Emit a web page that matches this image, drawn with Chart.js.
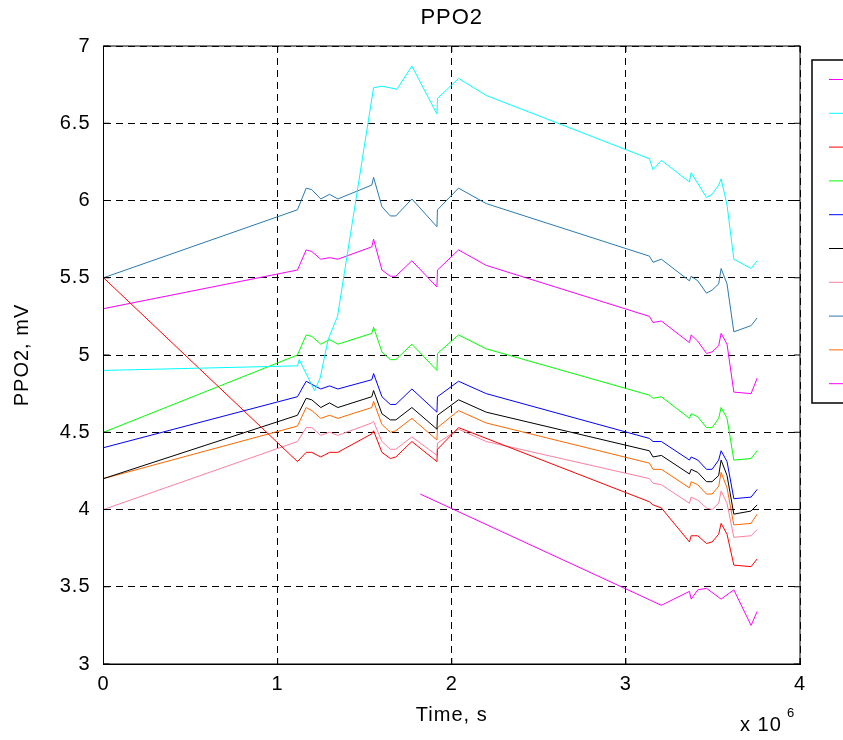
<!DOCTYPE html>
<html>
<head>
<meta charset="utf-8">
<script src="https://cdn.jsdelivr.net/npm/chart.js@4.4.1/dist/chart.umd.min.js"></script>
<style>
  html, body { margin: 0; padding: 0; background: #fff; }
  #wrap { width: 843px; height: 740px; }
</style>
</head>
<body>
<div id="wrap"><canvas id="myChart" width="843" height="740"></canvas></div>
<script>
// time in units of 10^6 s
var T = [0, 1.114, 1.164, 1.196, 1.248, 1.298, 1.346, 1.541, 1.551, 1.599, 1.647, 1.679, 1.771, 1.915, 1.918, 2.039, 2.198,
         3.135, 3.156, 3.204, 3.365, 3.375, 3.413, 3.463, 3.495, 3.533, 3.547, 3.581, 3.620, 3.719, 3.754];

var steel  = [5.50, 5.94, 6.08, 6.07, 6.01, 6.04, 6.01, 6.10, 6.15, 5.96, 5.90, 5.90, 6.01, 5.83, 5.94, 6.08, 5.98,
              5.64, 5.60, 5.62, 5.48, 5.51, 5.48, 5.40, 5.42, 5.46, 5.56, 5.46, 5.15, 5.19, 5.24];
var magUp  = [5.30, 5.55, 5.68, 5.67, 5.62, 5.63, 5.62, 5.70, 5.75, 5.55, 5.51, 5.51, 5.61, 5.44, 5.55, 5.68, 5.58,
              5.25, 5.21, 5.22, 5.08, 5.13, 5.09, 5.01, 5.02, 5.06, 5.14, 5.07, 4.76, 4.75, 4.85];
var green  = [4.50, 5.00, 5.13, 5.12, 5.07, 5.10, 5.07, 5.14, 5.18, 5.02, 4.97, 4.97, 5.07, 4.90, 5.01, 5.13, 5.04,
              4.74, 4.72, 4.73, 4.59, 4.62, 4.60, 4.53, 4.53, 4.59, 4.66, 4.59, 4.32, 4.33, 4.38];
var blue   = [4.40, 4.73, 4.83, 4.81, 4.78, 4.80, 4.78, 4.84, 4.88, 4.73, 4.68, 4.68, 4.78, 4.63, 4.73, 4.83, 4.75,
              4.46, 4.44, 4.44, 4.32, 4.34, 4.32, 4.26, 4.26, 4.32, 4.38, 4.31, 4.07, 4.08, 4.13];
var black  = [4.20, 4.61, 4.72, 4.71, 4.66, 4.69, 4.66, 4.73, 4.77, 4.62, 4.58, 4.58, 4.66, 4.52, 4.61, 4.71, 4.63,
              4.38, 4.34, 4.35, 4.23, 4.26, 4.24, 4.18, 4.18, 4.22, 4.32, 4.22, 3.97, 3.99, 4.03];
var orange = [4.20, 4.54, 4.66, 4.64, 4.59, 4.61, 4.59, 4.66, 4.70, 4.55, 4.50, 4.51, 4.59, 4.45, 4.53, 4.64, 4.56,
              4.30, 4.26, 4.26, 4.14, 4.18, 4.16, 4.10, 4.10, 4.15, 4.24, 4.14, 3.90, 3.91, 3.97];
var pink   = [4.00, 4.44, 4.53, 4.53, 4.48, 4.50, 4.48, 4.56, 4.57, 4.44, 4.39, 4.39, 4.47, 4.35, 4.43, 4.52, 4.44,
              4.20, 4.17, 4.16, 4.04, 4.08, 4.06, 4.01, 4.00, 4.04, 4.12, 4.04, 3.82, 3.83, 3.87];
var red    = [5.50, 4.31, 4.37, 4.37, 4.34, 4.37, 4.37, 4.49, 4.51, 4.37, 4.33, 4.34, 4.44, 4.31, 4.39, 4.53, null,
              4.05, 4.03, 4.01, 3.79, 3.83, 3.83, 3.78, 3.79, 3.84, 3.91, 3.84, 3.64, 3.63, 3.68];

var tCyan = [0, 1.114, 1.124, 1.212, 1.244, 1.29, 1.344, 1.551, 1.599, 1.685, 1.771, 1.915, 1.918, 2.039, 2.198,
             3.135, 3.156, 3.204, 3.365, 3.375, 3.463, 3.495, 3.533, 3.547, 3.581, 3.620, 3.719, 3.754];
var cyan  = [4.90, 4.93, 4.97, 4.77, 4.85, 5.10, 5.25, 6.73, 6.74, 6.72, 6.87, 6.56, 6.66, 6.79, 6.68,
             6.27, 6.20, 6.26, 6.12, 6.18, 6.02, 6.04, 6.10, 6.14, 5.97, 5.62, 5.56, 5.61];

var tLow   = [1.819, 3.204, 3.365, 3.375, 3.413, 3.463, 3.547, 3.620, 3.719, 3.754];
var magLow = [4.10, 3.38, 3.47, 3.42, 3.48, 3.49, 3.42, 3.48, 3.25, 3.34];

var xTicks = [0, 1, 2, 3, 4];
var yTicks = [3, 3.5, 4, 4.5, 5, 5.5, 6, 6.5, 7];

function pts(xs, ys) {
    return xs.map(function (x, i) { return { x: x, y: ys[i] }; });
}

var FONT = '"Liberation Sans", Arial, sans-serif';

function ds(xs, ys, color) {
    return {
        label: '',
        data: pts(xs, ys),
        borderColor: color,
        backgroundColor: color,
        borderWidth: 1,
        pointRadius: 0,
        tension: 0,
        fill: false,
        spanGaps: true
    };
}

// frame, inner ticks, legend box and exponent label
var extras = {
    id: 'extras',
    beforeDraw: function (chart) {
        chart.ctx.letterSpacing = '1px';
    },
    afterDraw: function (chart) {
        var ctx = chart.ctx, a = chart.chartArea;
        var xs = chart.scales.x, ys = chart.scales.y;
        ctx.save();
        ctx.strokeStyle = '#000';
        ctx.lineWidth = 1;
        ctx.setLineDash([]);
        ctx.strokeRect(a.left, a.top, a.right - a.left, a.bottom - a.top);
        ctx.beginPath();
        xTicks.forEach(function (v) {
            var px = xs.getPixelForValue(v);
            ctx.moveTo(px, a.bottom); ctx.lineTo(px, a.bottom - 6);
            ctx.moveTo(px, a.top); ctx.lineTo(px, a.top + 6);
        });
        yTicks.forEach(function (v) {
            var py = ys.getPixelForValue(v);
            ctx.moveTo(a.left, py); ctx.lineTo(a.left + 6, py);
            ctx.moveTo(a.right, py); ctx.lineTo(a.right - 6, py);
        });
        ctx.stroke();

        // legend (no text, as in the original)
        ctx.lineWidth = 1.5;
        ctx.strokeRect(812, 60, 60, 343);
        chart.data.datasets.forEach(function (d, i) {
            var y = 79.5 + i * 33.8;
            ctx.strokeStyle = d.borderColor;
            ctx.lineWidth = 1;
            ctx.beginPath();
            ctx.moveTo(829, y); ctx.lineTo(860, y);
            ctx.stroke();
        });

        ctx.fillStyle = '#000';
        ctx.textBaseline = 'alphabetic';
        ctx.font = '20px ' + FONT;
        ctx.fillText('x 10', 740, 731);
        ctx.font = '13px ' + FONT;
        ctx.fillText('6', 787, 717);
        ctx.restore();
    }
};

const ctx = document.getElementById('myChart');

new Chart(ctx, {
    type: 'line',
    data: {
        datasets: [
            ds(tLow, magLow, '#ff00ff'),
            ds(tCyan, cyan, '#00ffff'),
            ds(T, red, '#ff0000'),
            ds(T, green, '#00ff00'),
            ds(T, blue, '#0000ff'),
            ds(T, black, '#000000'),
            ds(T, pink, '#ff7f9f'),
            ds(T, steel, '#2a7ab0'),
            ds(T, orange, '#ff6600'),
            ds(T, magUp, '#ff00ff')
        ]
    },
    options: {
        responsive: false,
        animation: false,
        layout: { padding: { left: 0, right: 43, top: 0, bottom: 0 } },
        plugins: {
            legend: { display: false },
            tooltip: { enabled: false },
            title: {
                display: true,
                fullSize: false,
                text: 'PPO2',
                color: '#000',
                font: { family: FONT, size: 22, weight: 'normal' },
                padding: { top: 5, bottom: 14.6 }
            }
        },
        scales: {
            x: {
                type: 'linear',
                min: 0, max: 4,
                afterBuildTicks: function (s) { s.ticks = xTicks.map(function (v) { return { value: v }; }); },
                afterFit: function (s) { s.height = 76; },
                grid: { color: '#000', lineWidth: 1, drawTicks: false },
                border: { display: true, color: '#000', dash: [7, 5] },
                ticks: { color: '#000', padding: 8, font: { family: FONT, size: 20 },
                         callback: function (v) { return String(v); } },
                title: { display: true, text: 'Time, s', color: '#000', font: { family: FONT, size: 20 }, padding: { top: 0, bottom: 13 } }
            },
            y: {
                type: 'linear',
                min: 3, max: 7,
                afterBuildTicks: function (s) { s.ticks = yTicks.map(function (v) { return { value: v }; }); },
                afterFit: function (s) { s.width = 103.5; },
                grid: { color: '#000', lineWidth: 1, drawTicks: false },
                border: { display: true, color: '#000', dash: [7, 5] },
                ticks: { color: '#000', padding: 13, font: { family: FONT, size: 20 },
                         callback: function (v) { return String(v); } },
                title: { display: true, text: 'PPO2, mV', color: '#000', font: { family: FONT, size: 20 }, padding: { top: 10, bottom: 0 } }
            }
        }
    },
    plugins: [extras]
});
</script>
</body>
</html>
